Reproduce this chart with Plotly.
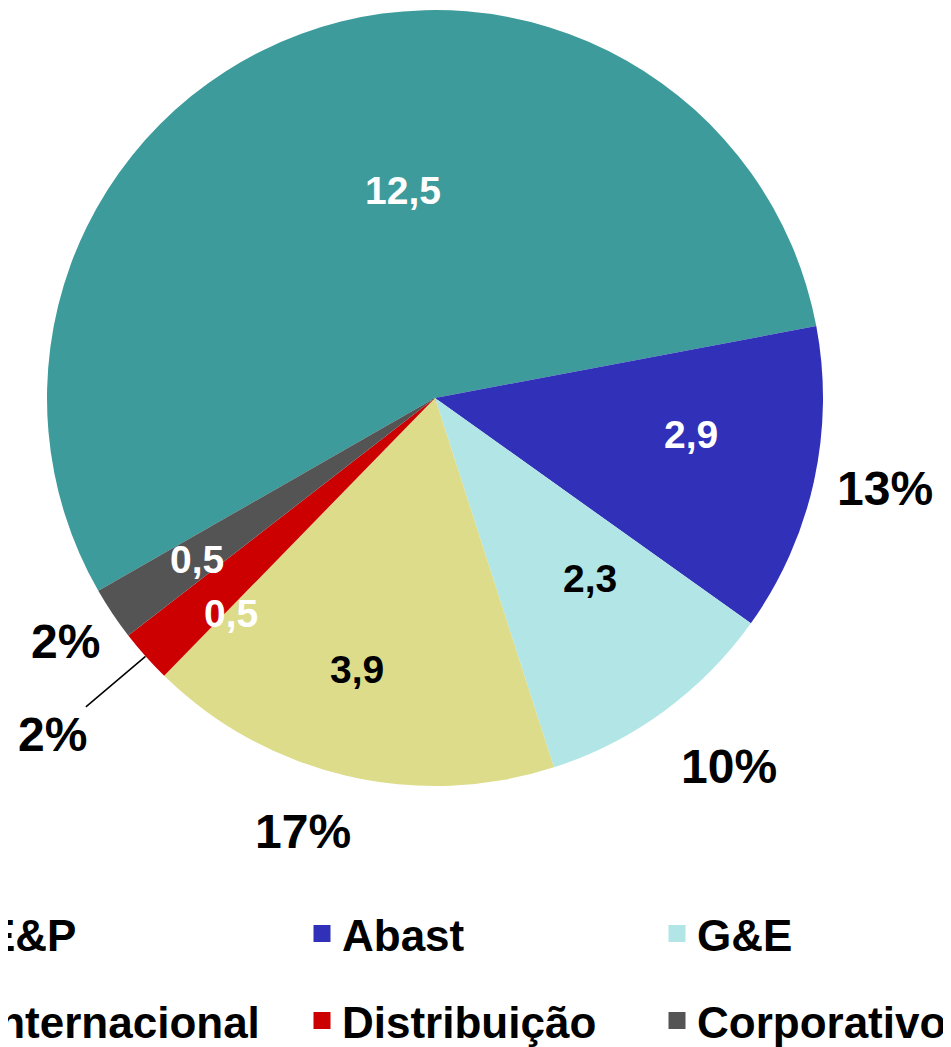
import math
import plotly.graph_objects as go

# ---------------- data ----------------
LABELS = ["E&P", "Abast", "G&E", "Internacional", "Distribuição", "Corporativo"]
VALUES = [12.5, 2.9, 2.3, 3.9, 0.5, 0.5]
SHOW_PCT = [False, True, True, True, True, True]   # E&P % label is cropped out in the original

# ---------------- style ----------------
COLORS = ["#3d9b9b", "#3030b9", "#b2e5e5", "#dcdc8a", "#cc0000", "#545454"]
VALUE_TEXT_COLORS = ["white", "white", "black", "black", "white", "white"]
FONT = "Liberation Sans, Arial, sans-serif"

PAGE_OFFSET = 8            # default body margin of the html page
W, H = 951 - PAGE_OFFSET, 1047 - PAGE_OFFSET

# pie placement (page pixels): centre (435, 398), radius 388
PIE_DOMAIN_X = [0.0, 2 * (435 - PAGE_OFFSET) / W]
PIE_DOMAIN_Y = [1 - (398 + 388 - PAGE_OFFSET) / H, 1 - (398 - 388 - PAGE_OFFSET) / H]
ROTATION = -119.8

# label placement (radius factor, angle shift in degrees relative to slice middle)
VALUE_R = [0.542, 0.667, 0.614, 0.727, 0.764, 0.742]
VALUE_SHIFT = [11.5, -4.2, -4.4, 2.9, -4.75, -0.4]
PCT_R = [1.18, 1.183, 1.214, 1.167, 1.313, 1.139]
PCT_SHIFT = [0.0, -1.0, -2.4, 3.7, 0.35, 0.4]
PCT_LEADER = [False, False, False, False, True, False]

LEG_X = [(-54 - PAGE_OFFSET) / W, (302 - PAGE_OFFSET) / W, (657 - PAGE_OFFSET) / W]
LEG_Y = [1 - (934 - PAGE_OFFSET) / H, 1 - (1021 - PAGE_OFFSET) / H]

# ---------------- geometry helpers ----------------
cx = W * (PIE_DOMAIN_X[0] + PIE_DOMAIN_X[1]) / 2
cy = H * (1 - (PIE_DOMAIN_Y[0] + PIE_DOMAIN_Y[1]) / 2)
r = min(W * (PIE_DOMAIN_X[1] - PIE_DOMAIN_X[0]), H * (PIE_DOMAIN_Y[1] - PIE_DOMAIN_Y[0])) / 2
total = sum(VALUES)


def point(angle_deg, rho):
    a = math.radians(angle_deg)
    return cx + rho * math.sin(a), cy - rho * math.cos(a)


mids = []
start = ROTATION
for v in VALUES:
    span = v / total * 360
    mids.append(start + span / 2)
    start += span

fig = go.Figure()

# legend-only helper pies (tiny, hidden under the main pie centre)
lx0 = cx / W
ly0 = 1 - cy / H
for i, lab in enumerate(LABELS):
    key = "legend" if i == 0 else f"legend{i + 1}"
    fig.add_trace(go.Pie(
        labels=[lab], values=[VALUES[i]],
        marker=dict(colors=[COLORS[i]], line=dict(color=COLORS[i], width=5)),
        domain=dict(x=[lx0 - 0.0003, lx0 + 0.0003], y=[ly0 - 0.0003, ly0 + 0.0003]),
        textinfo="none", hoverinfo="skip", sort=False,
        showlegend=True, legend=key,
    ))

# main pie
fig.add_trace(go.Pie(
    labels=LABELS, values=VALUES,
    marker=dict(colors=COLORS, line=dict(width=0)),
    domain=dict(x=PIE_DOMAIN_X, y=PIE_DOMAIN_Y),
    sort=False, direction="clockwise", rotation=ROTATION,
    textinfo="none", showlegend=False,
))

annotations = []
for i, v in enumerate(VALUES):
    # value labels inside the slices
    px, py = point(mids[i] + VALUE_SHIFT[i], r * VALUE_R[i])
    annotations.append(dict(
        x=px / W, y=1 - py / H, xref="paper", yref="paper",
        text=f"{v:.1f}".replace(".", ","), showarrow=False,
        xanchor="center", yanchor="middle",
        font=dict(family=FONT, size=39, color=VALUE_TEXT_COLORS[i], weight="bold"),
    ))
    if not SHOW_PCT[i]:
        continue
    pct = f"{round(v / total * 100)}%"
    tx, ty = point(mids[i] + PCT_SHIFT[i], r * PCT_R[i])
    if PCT_LEADER[i]:
        ex, ey = point(mids[i], r)
        annotations.append(dict(
            x=ex / W, y=1 - ey / H, xref="paper", yref="paper",
            ax=tx - ex, ay=ty - ey, text=pct, showarrow=True,
            arrowhead=0, arrowwidth=1.5, arrowcolor="black", standoff=0,
            font=dict(family=FONT, size=48, color="black", weight="bold"),
        ))
    else:
        annotations.append(dict(
            x=tx / W, y=1 - ty / H, xref="paper", yref="paper",
            text=pct, showarrow=False, xanchor="center", yanchor="middle",
            font=dict(family=FONT, size=48, color="black", weight="bold"),
        ))

legend_layout = {}
for i in range(len(LABELS)):
    key = "legend" if i == 0 else f"legend{i + 1}"
    legend_layout[key] = dict(
        x=LEG_X[i % 3], y=LEG_Y[i // 3], xanchor="left", yanchor="middle",
        orientation="v", bgcolor="rgba(0,0,0,0)", borderwidth=0,
        font=dict(family=FONT, size=44, color="black", weight="bold"),
    )

fig.update_layout(
    width=W, height=H,
    margin=dict(l=0, r=0, t=0, b=0, autoexpand=False),
    paper_bgcolor="white", plot_bgcolor="white",
    annotations=annotations,
    **legend_layout,
)

fig.write_html("out.html")
